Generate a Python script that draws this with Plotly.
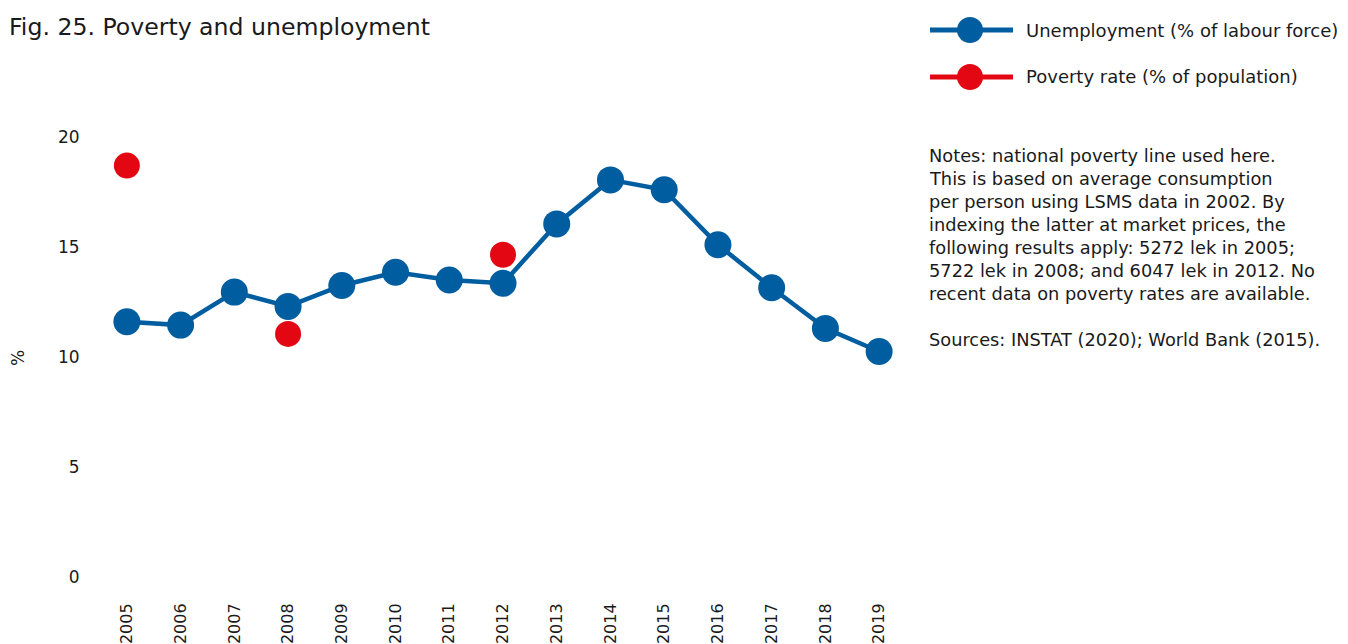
import plotly.graph_objects as go

years = [str(y) for y in range(2005, 2020)]
unemployment = [11.6, 11.45, 12.95, 12.3, 13.25, 13.85, 13.5, 13.35, 16.05, 18.05, 17.6, 15.1, 13.15, 11.3, 10.25]
poverty_years = ["2005", "2008", "2012"]
poverty = [18.7, 11.05, 14.65]

BLUE = "#005DA0"
RED = "#E30613"
TXT = "#1a1a1a"
FONT = "DejaVu Sans"

W, H = 1348, 644
OFF = 8  # page body margin
L, R, T, B = 92, 450, 129, 75


# screen pixel -> paper coords
def px_x(x):
    return (x - OFF - L) / (W - L - R)


def px_y(y):
    return (H - B - (y - OFF)) / (H - T - B)


fig = go.Figure()
fig.add_trace(go.Scatter(x=years, y=unemployment, mode="lines+markers",
                         line=dict(color=BLUE, width=4.5),
                         marker=dict(color=BLUE, size=27),
                         cliponaxis=False, showlegend=False))
fig.add_trace(go.Scatter(x=poverty_years, y=poverty, mode="markers",
                         marker=dict(color=RED, size=26),
                         cliponaxis=False, showlegend=False))

# hand-drawn legend (line + dot + label)
legend = [("Unemployment (% of labour force)", BLUE, 30), ("Poverty rate (% of population)", RED, 77)]
shapes = []
annotations = []
for label, col, yy in legend:
    shapes.append(dict(type="line", xref="paper", yref="paper",
                       x0=px_x(930), x1=px_x(1013), y0=px_y(yy), y1=px_y(yy),
                       line=dict(color=col, width=5)))
    shapes.append(dict(type="circle", xref="paper", yref="paper",
                       x0=px_x(957), x1=px_x(983), y0=px_y(yy - 13), y1=px_y(yy + 13),
                       fillcolor=col, line=dict(width=0)))
    annotations.append(dict(text=label, xref="paper", yref="paper",
                            x=px_x(1024), y=px_y(yy), xanchor="left", yanchor="middle",
                            showarrow=False, font=dict(size=18, color=TXT)))

notes = ["Notes: national poverty line used here.",
         "This is based on average consumption",
         "per person using LSMS data in 2002. By",
         "indexing the latter at market prices, the",
         "following results apply: 5272 lek in 2005;",
         "5722 lek in 2008; and 6047 lek in 2012. No",
         "recent data on poverty rates are available.",
         "",
         "Sources: INSTAT (2020); World Bank (2015)."]
for i, line in enumerate(notes):
    if not line:
        continue
    annotations.append(dict(text=line, xref="paper", yref="paper", align="left",
                            x=px_x(927), y=px_y(155 + 23 * i), xanchor="left", yanchor="middle",
                            showarrow=False, font=dict(size=17.8, color=TXT)))
annotations.append(dict(text="%", xref="paper", yref="paper", textangle=-90,
                        x=px_x(18), y=px_y(358), xanchor="center", yanchor="middle",
                        showarrow=False, font=dict(size=17, color=TXT)))

fig.update_layout(
    width=W, height=H,
    margin=dict(l=L, r=R, t=T, b=B),
    paper_bgcolor="white", plot_bgcolor="white",
    font=dict(family=FONT, color=TXT),
    title=dict(text="Fig. 25. Poverty and unemployment", x=(9 - OFF) / W, xanchor="left",
               xref="container", yref="container", y=1 - (27 - OFF) / H, yanchor="middle",
               font=dict(size=23.6, color=TXT)),
    xaxis=dict(type="category", range=[-0.5, 14.5], showgrid=False, showline=False,
               zeroline=False, tickangle=-90, ticks="outside", ticklen=19, automargin=False,
               tickcolor="white", tickfont=dict(size=16)),
    yaxis=dict(range=[0, 20], dtick=5, showgrid=False, showline=False, zeroline=False,
               ticks="outside", ticklen=16, tickcolor="white", automargin=False,
               tickfont=dict(size=17)),
    shapes=shapes, annotations=annotations,
)

fig.write_html("out.html")
